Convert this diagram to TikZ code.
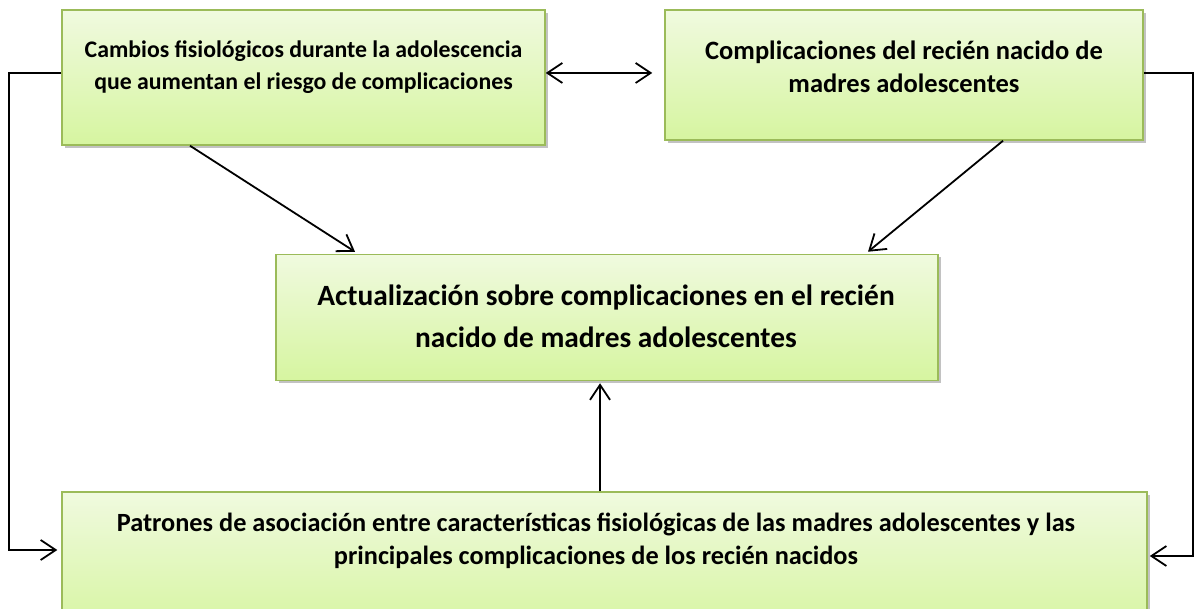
\documentclass[tikz,border=0pt]{standalone}
\usepackage{fontspec}
\setmainfont{Carlito}
\usetikzlibrary{arrows.meta,shadows}
\definecolor{olivo}{HTML}{9BBB59}
\definecolor{verdeA}{HTML}{F0FADF}
\definecolor{verdeB}{HTML}{D6F5A0}
\tikzset{
  caja/.style={draw=olivo,line width=1.5pt,top color=verdeA,bottom color=verdeB,
    drop shadow={shadow xshift=2.5pt,shadow yshift=-3pt,fill=black!60,opacity=.4}},
  texto/.style={font=\bfseries,align=center,inner sep=0pt},
  flecha/.style={-{Straight Barb[length=15pt,width=20pt]},line width=1.8pt},
  doble/.style={{Straight Barb[length=15pt,width=20pt]}-{Straight Barb[length=15pt,width=20pt]},line width=1.8pt}
}
\begin{document}
\begin{tikzpicture}[x=1pt,y=-1pt]
\useasboundingbox (0,0) rectangle (1195,609);
% cajas
\node[caja,minimum width=483pt,minimum height=135pt] (A) at (303.5,77.5) {};
\node[caja,minimum width=478pt,minimum height=130pt] (B) at (904,75) {};
\node[caja,minimum width=662pt,minimum height=126pt] (C) at (607,317.5) {};
\node[caja,minimum width=1085pt,minimum height=140pt] (D) at (604.5,562) {};
% textos
\node[texto,font=\fontsize{23.8}{32}\selectfont\bfseries] (tA) at (303.5,67.5)
  {Cambios fisiológicos durante la adolescencia\\que aumentan el riesgo de complicaciones};
\node[texto,font=\fontsize{26.5}{33}\selectfont\bfseries] (tB) at (904,67)
  {Complicaciones del recién nacido de\\madres adolescentes};
\node[texto,font=\fontsize{29.4}{42}\selectfont\bfseries] (tC) at (606,316)
  {Actualización sobre complicaciones en el recién\\nacido de madres adolescentes};
\node[texto,font=\fontsize{26.3}{33}\selectfont\bfseries] (tD) at (596,541)
  {Patrones de asociación entre características fisiológicas de las madres adolescentes y las\\principales complicaciones de los recién nacidos};
% flechas
\draw[doble] ([yshift=4.5pt]A.east) -- ([xshift=-12pt,yshift=2pt]B.west);
\draw[flecha] ([xshift=-113.5pt]A.south) -- ([xshift=-252pt,yshift=2pt]C.north);
\draw[flecha] ([xshift=99pt]B.south) -- ([xshift=261pt,yshift=2pt]C.north);
\draw[flecha] ([xshift=-4.5pt]D.north) -- ([xshift=-7pt,yshift=-2pt]C.south);
\draw[flecha] ([yshift=4.5pt]A.west) -- ++(-52,0) |- ([xshift=-4pt,yshift=12pt]D.west);
\draw[flecha] ([yshift=2pt]B.east) -- ++(49,0) |- ([xshift=2pt,yshift=6pt]D.east);
\end{tikzpicture}
\end{document}
